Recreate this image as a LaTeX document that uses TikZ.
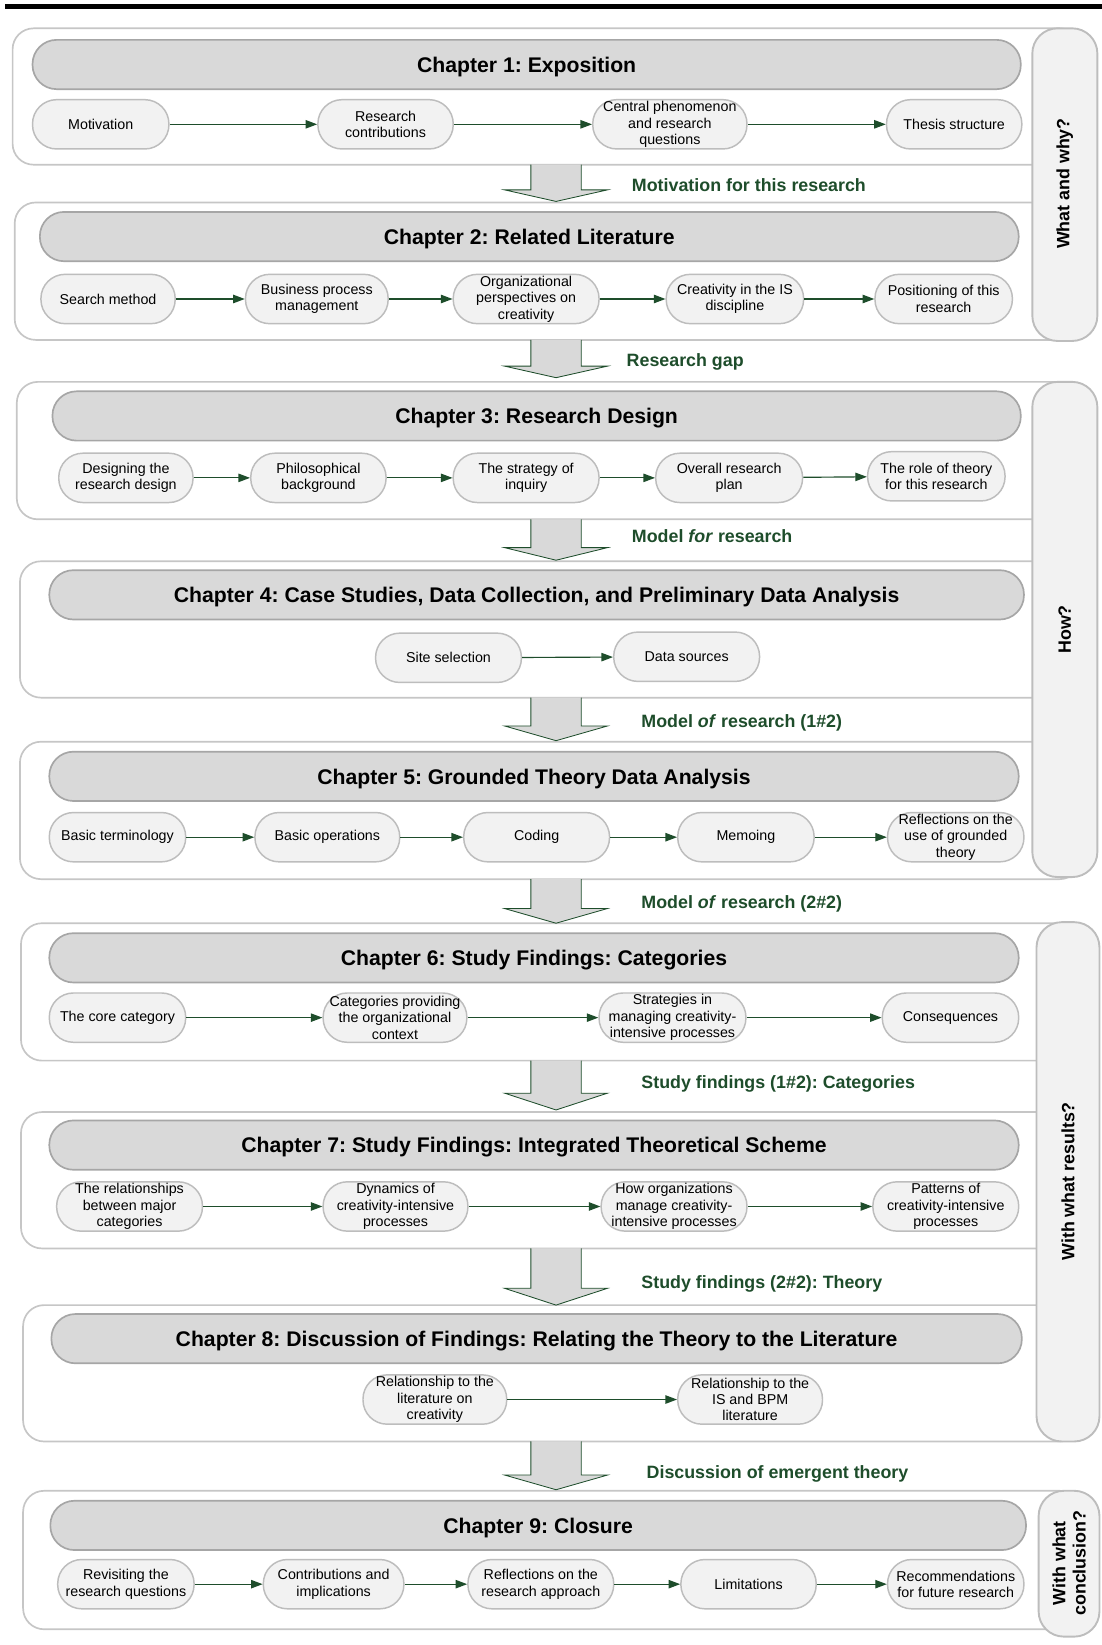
\documentclass[tikz,border=0pt]{standalone}
\usepackage{fontspec}
\setmainfont{Liberation Sans}
\usetikzlibrary{arrows.meta}
\definecolor{dgreen}{HTML}{1E4D2B}
\definecolor{outerc}{HTML}{C6C6C6}
\definecolor{headfill}{HTML}{D9D9D9}
\definecolor{headline}{HTML}{A6A6A6}
\definecolor{itemfill}{HTML}{F2F2F2}
\definecolor{itemline}{HTML}{BDBDBD}
\frenchspacing
\newcommand\myblockarrow[3]{%
  \filldraw[blockarrow] (506,#1) -- (506,#2) -- (481,#2) -- (530,#3) -- (579,#2) -- (554,#2) -- (554,#1);}
\begin{document}
\begin{tikzpicture}[x=0.5pt,y=-0.5pt,
 outerbox/.style={draw=outerc, line width=0.8pt, fill=white, rounded corners=10pt},
 sidebox/.style={draw=itemline, line width=0.9pt, fill=itemfill, rounded corners=12pt},
 head/.style={draw=headline, line width=0.8pt, fill=headfill, rounded corners=11.5pt, minimum height=23.5pt, inner sep=0pt, text height=7.3pt, text depth=0pt, font=\fontsize{10.1}{12}\selectfont\bfseries},
 item/.style={draw=itemline, line width=0.7pt, fill=itemfill, rounded corners=11.5pt, minimum height=23.5pt, inner sep=0pt, align=center, font=\fontsize{6.8}{7.8}\selectfont},
 conn/.style={draw=dgreen, line width=0.55pt, -{Triangle[length=5.5pt,width=4pt]}},
 lbl/.style={anchor=west, text=dgreen, font=\fontsize{8.5}{10}\selectfont\bfseries, inner sep=0pt, text height=6.1pt, text depth=0pt},
 side/.style={rotate=90, align=center, font=\fontsize{8.5}{9.6}\selectfont\bfseries, inner sep=0pt},
 blockarrow/.style={fill=headfill, draw=dgreen, line width=0.4pt, line join=miter}
]
\useasboundingbox (0,0) rectangle (1050,1568);
% top bar
\fill[black] (5,4) rectangle (1050,8.5);

% outer chapter boxes
\draw[outerbox] (12,27) rectangle (1030,157);
\draw[outerbox] (14,193) rectangle (1030,324);
\draw[outerbox] (16,364) rectangle (1030,495);
\draw[outerbox] (19,535) rectangle (1030,665);
\draw[outerbox] (19,707) rectangle (1030,838);
\draw[outerbox] (20,880) rectangle (1030,1011);
\draw[outerbox] (20,1060) rectangle (1030,1190);
\draw[outerbox] (22,1244) rectangle (1030,1374);
\draw[outerbox] (22,1421) rectangle (1030,1553);

% side boxes
\draw[sidebox] (984,27) rectangle (1046,325);
\draw[sidebox] (984,364) rectangle (1046,836);
\draw[sidebox] (988,879) rectangle (1048,1374);
\draw[sidebox] (990,1421) rectangle (1048,1560);
\node[side] (s1) at (1015,175) {What and why?};
\node[side] (s2) at (1015,600) {How?};
\node[side] (s3) at (1018,1126) {With what results?};
\node[side] (s4) at (1019,1490) {With what\\conclusion?};

% block arrows
\myblockarrow{157}{181}{192}
\myblockarrow{324}{349}{360}
\myblockarrow{495}{522}{534}
\myblockarrow{665}{692}{706}
\myblockarrow{838}{866}{880}
\myblockarrow{1011}{1042}{1058}
\myblockarrow{1190}{1228}{1244}
\myblockarrow{1374}{1406}{1420}

% arrow labels
\node[lbl] (l1) at (602,176) {Motivation for this research};
\node[lbl] (l2) at (597,343) {Research gap};
\node[lbl] (l3) at (602,511) {Model \textit{for} research};
\node[lbl] (l4) at (611,687) {Model \textit{of} research (1\#2)};
\node[lbl] (l5) at (611,860) {Model \textit{of} research (2\#2)};
\node[lbl] (l6) at (611,1031) {Study findings (1\#2): Categories};
\node[lbl] (l7) at (611,1222) {Study findings (2\#2): Theory};
\node[lbl] (l8) at (616,1403) {Discussion of emergent theory};

% headers
\node[head, minimum width=471pt] (h1) at (502,61.5) {Chapter 1: Exposition};
\node[head, minimum width=466.5pt] (h2) at (504.5,225.5) {Chapter 2: Related Literature};
\node[head, minimum width=461.5pt] (h3) at (511.5,396.5) {Chapter 3: Research Design};
\node[head, minimum width=464.5pt] (h4) at (511.5,567) {Chapter 4: Case Studies, Data Collection, and Preliminary Data Analysis};
\node[head, minimum width=462pt] (h5) at (509,740) {Chapter 5: Grounded Theory Data Analysis};
\node[head, minimum width=462pt] (h6) at (509,913) {Chapter 6: Study Findings: Categories};
\node[head, minimum width=462pt] (h7) at (509,1091.5) {Chapter 7: Study Findings: Integrated Theoretical Scheme};
\node[head, minimum width=462.5pt] (h8) at (511.5,1276) {Chapter 8: Discussion of Findings: Relating the Theory to the Literature};
\node[head, minimum width=465pt] (h9) at (513,1454) {Chapter 9: Closure};

% chapter 1 items
\node[item, minimum width=65pt] (a1) at (96,118.5) {Motivation};
\node[item, minimum width=64.5pt] (a2) at (367.5,118.5) {Research\\contributions};
\node[item, minimum width=73.5pt] (a3) at (638.5,118.5) {Central phenomenon\\and research\\questions};
\node[item, minimum width=64.5pt] (a4) at (909.5,118.5) {Thesis structure};
\draw[conn] (a1) -- (a2); \draw[conn] (a2) -- (a3); \draw[conn] (a3) -- (a4);

% chapter 2 items
\node[item, minimum width=64pt] (b1) at (103,285) {Search method};
\node[item, minimum width=68pt] (b2) at (302,285) {Business process\\management};
\node[item, minimum width=69.5pt] (b3) at (501.5,285) {Organizational\\perspectives on\\creativity};
\node[item, minimum width=65.5pt] (b4) at (700.5,285) {Creativity in the IS\\discipline};
\node[item, minimum width=65.5pt] (b5) at (899.5,285) {Positioning of this\\research};
\draw[conn] (b1) -- (b2); \draw[conn] (b2) -- (b3); \draw[conn] (b3) -- (b4); \draw[conn] (b4) -- (b5);

% chapter 3 items
\node[item, minimum width=64pt] (c1) at (120,455.5) {Designing the\\research design};
\node[item, minimum width=64.5pt] (c2) at (303.5,455.5) {Philosophical\\background};
\node[item, minimum width=69.5pt] (c3) at (501.5,455.5) {The strategy of\\inquiry};
\node[item, minimum width=70pt] (c4) at (695,455.5) {Overall research\\plan};
\node[item, minimum width=65.5pt] (c5) at (892.5,454) {The role of theory\\for this research};
\draw[conn] (c1) -- (c2); \draw[conn] (c2) -- (c3); \draw[conn] (c3) -- (c4); \draw[conn] (c4) -- (c5);

% chapter 4 items
\node[item, minimum width=69.5pt] (d1) at (427.5,627) {Site selection};
\node[item, minimum width=69.5pt] (d2) at (654.5,626) {Data sources};
\draw[conn] (d1) -- (d2);

% chapter 5 items
\node[item, minimum width=65pt] (e1) at (112,798) {Basic terminology};
\node[item, minimum width=69pt] (e2) at (312,798) {Basic operations};
\node[item, minimum width=69.5pt] (e3) at (511.5,798) {Coding};
\node[item, minimum width=65pt] (e4) at (711,798) {Memoing};
\node[item, minimum width=65pt] (e5) at (911,798) {Reflections on the\\use of grounded\\theory};
\draw[conn] (e1) -- (e2); \draw[conn] (e2) -- (e3); \draw[conn] (e3) -- (e4); \draw[conn] (e4) -- (e5);

% chapter 6 items
\node[item, minimum width=65pt] (f1) at (112,970) {The core category};
\node[item, minimum width=68.5pt] (f2) at (376.5,970) {Categories providing\\the organizational\\context};
\node[item, minimum width=70pt] (f3) at (641,970) {Strategies in\\managing creativity-\\intensive processes};
\node[item, minimum width=65pt] (f4) at (906,970) {Consequences};
\draw[conn] (f1) -- (f2); \draw[conn] (f2) -- (f3); \draw[conn] (f3) -- (f4);

% chapter 7 items
\node[item, minimum width=69.5pt] (g1) at (123.5,1150) {The relationships\\between major\\categories};
\node[item, minimum width=69pt] (g2) at (377,1150) {Dynamics of\\creativity-intensive\\processes};
\node[item, minimum width=69.5pt] (g3) at (642.5,1150) {How organizations\\manage creativity-\\intensive processes};
\node[item, minimum width=69.5pt] (g4) at (901.5,1150) {Patterns of\\creativity-intensive\\processes};
\draw[conn] (g1) -- (g2); \draw[conn] (g2) -- (g3); \draw[conn] (g3) -- (g4);

% chapter 8 items
\node[item, minimum width=68.5pt] (k1) at (414.5,1334) {Relationship to the\\literature on\\creativity};
\node[item, minimum width=69pt] (k2) at (715,1334) {Relationship to the\\IS and BPM\\literature};
\draw[conn] (k1) -- (k2);

% chapter 9 items
\node[item, minimum width=65pt] (m1) at (120,1510) {Revisiting the\\research questions};
\node[item, minimum width=67pt] (m2) at (318,1510) {Contributions and\\implications};
\node[item, minimum width=69.5pt] (m3) at (515.5,1510) {Reflections on the\\research approach};
\node[item, minimum width=64.5pt] (m4) at (713.5,1510) {Limitations};
\node[item, minimum width=65pt] (m5) at (911,1510) {Recommendations\\for future research};
\draw[conn] (m1) -- (m2); \draw[conn] (m2) -- (m3); \draw[conn] (m3) -- (m4); \draw[conn] (m4) -- (m5);
\end{tikzpicture}
\end{document}
